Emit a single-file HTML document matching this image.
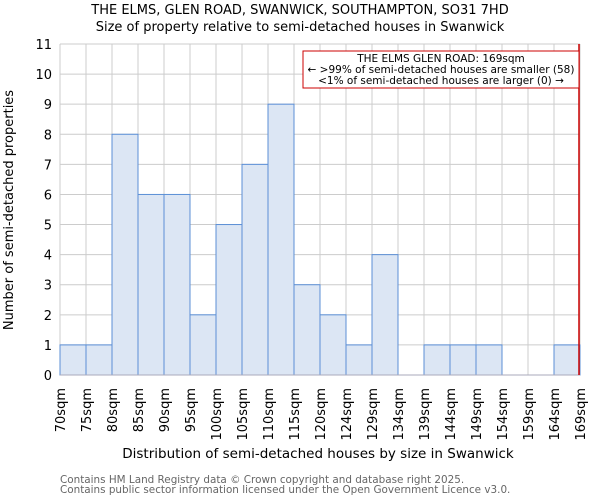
<!DOCTYPE html>
<html><head><meta charset="utf-8"><style>body{margin:0;background:#fff}svg{display:block;font-family:"DejaVu Sans","Liberation Sans",sans-serif}</style></head>
<body>
<svg width="600" height="500" id="c">
<text x="300" y="14" text-anchor="middle" font-size="13">THE ELMS, GLEN ROAD, SWANWICK, SOUTHAMPTON, SO31 7HD</text>
<text x="300" y="31" text-anchor="middle" font-size="13">Size of property relative to semi-detached houses in Swanwick</text>
<g id="grid"></g><g id="bars"></g><g id="ticks"></g>
<text transform="translate(13,210) rotate(-90)" text-anchor="middle" font-size="13">Number of semi-detached properties</text>
<text x="318" y="458" text-anchor="middle" font-size="13.5">Distribution of semi-detached houses by size in Swanwick</text>
<text x="60" y="483" font-size="10.4" fill="#666">Contains HM Land Registry data © Crown copyright and database right 2025.</text>
<text x="60" y="493" font-size="10.4" fill="#666">Contains public sector information licensed under the Open Government Licence v3.0.</text>
</svg>
<script>
const categories=["70sqm","75sqm","80sqm","85sqm","90sqm","95sqm","100sqm","105sqm","110sqm","115sqm","120sqm","124sqm","129sqm","134sqm","139sqm","144sqm","149sqm","154sqm","159sqm","164sqm","169sqm"];
const counts=[1,1,8,6,6,2,5,7,9,3,2,1,4,0,1,1,1,0,0,1];
const yTicks=[0,1,2,3,4,5,6,7,8,9,10,11];
const propertyIndex=20;
const annotation=["THE ELMS GLEN ROAD: 169sqm","← >99% of semi-detached houses are smaller (58)","<1% of semi-detached houses are larger (0) →"];
const NS="http://www.w3.org/2000/svg";
const L=60,R=580,T=44,B=375,yMax=11;
const bw=(R-L)/counts.length;
const xs=i=>L+i*bw, ys=v=>B-v/yMax*(B-T);
function mk(p,tag,a){const e=document.createElementNS(NS,tag);for(const k in a)e.setAttribute(k,a[k]);document.getElementById(p)?document.getElementById(p).appendChild(e):p.appendChild(e);return e;}
const svg=document.getElementById('c');
yTicks.forEach(v=>{const l=mk('grid','line',{x1:L,x2:R,y1:ys(v),y2:ys(v),stroke:'#ccc'});


const t=mk('ticks','text',{x:L-8,y:ys(v)+5,'text-anchor':'end','font-size':13});t.textContent=v;

});
categories.forEach((c,i)=>{const l=mk('grid','line',{x1:xs(i),x2:xs(i),y1:T,y2:B,stroke:'#ccc'});


const t=mk('ticks','text',{transform:`translate(${xs(i)+5},388) rotate(-90)`,'text-anchor':'end','font-size':13});t.textContent=c;

});
counts.forEach((v,i)=>{if(!v)return;const r=mk('bars','rect',{x:xs(i),y:ys(v),width:bw,height:B-ys(v),fill:'#dce6f4',stroke:'#5b8fd6','stroke-width':1});

});
const ax=mk('ticks','line',{x1:L,x2:R,y1:B,y2:B,stroke:'#aab'});


const px=xs(propertyIndex)-1;
const pl=mk(svg,'line',{x1:px,x2:px,y1:T,y2:B,stroke:'#c00','stroke-width':1.5});


const box=mk(svg,'rect',{x:303,y:51,width:px-303,height:37,fill:'#fff',stroke:'#c00'});


annotation.forEach((s,i)=>{const t=mk(svg,'text',{x:441,y:62+i*11,'text-anchor':'middle','font-size':10.5});t.textContent=s;

});
</script>
</body></html>
